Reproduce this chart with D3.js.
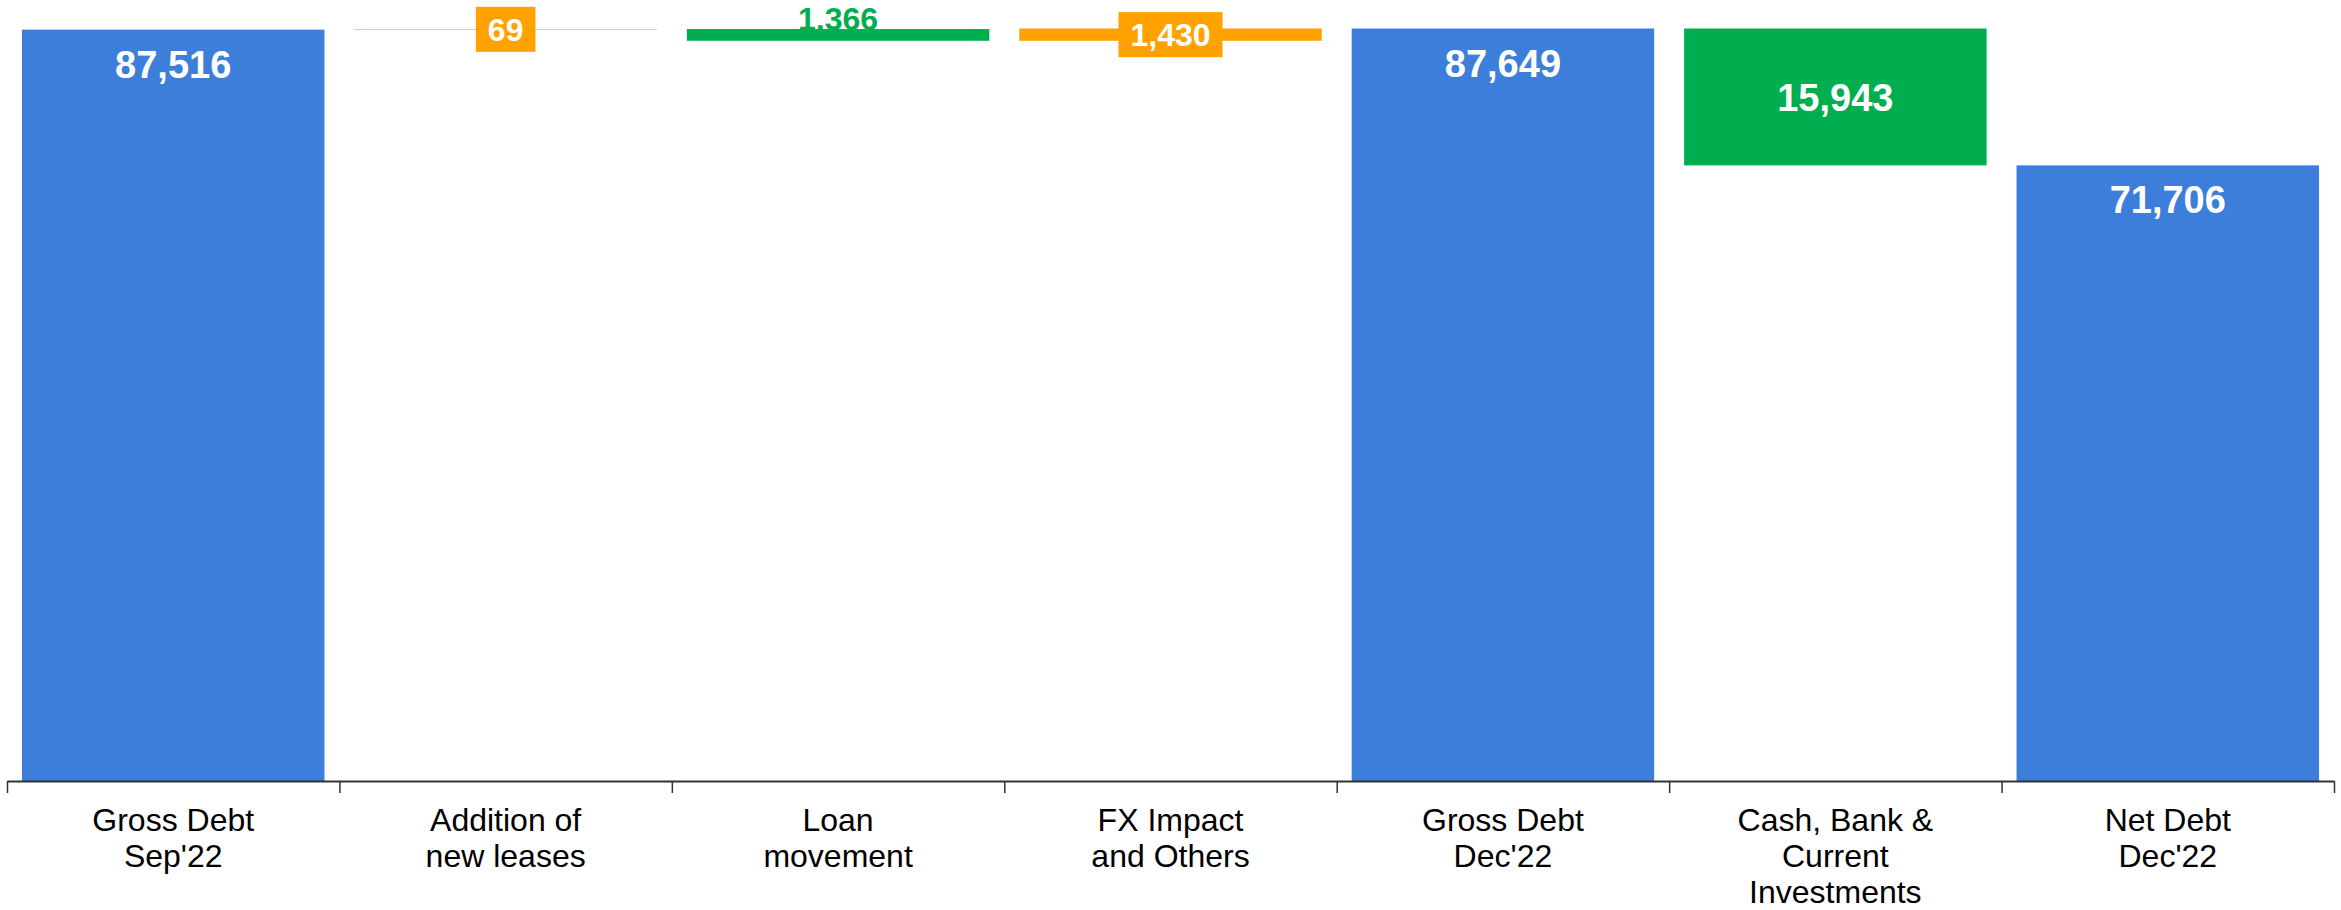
<!DOCTYPE html>
<html>
<head>
<meta charset="utf-8">
<script src="https://cdn.jsdelivr.net/npm/d3@7/dist/d3.min.js"></script>
<style>
  html, body { margin: 0; padding: 0; background: #fff; }
  svg { display: block; font-family: "Liberation Sans", Arial, sans-serif; }
</style>
</head>
<body>
<svg id="chart" width="2341" height="910"></svg>
<script>
// waterfall data
var categories = ["gross_sep", "leases", "loan", "fx", "gross_dec", "cash", "net_dec"];
var tickLabels = [
	["Gross Debt", "Sep'22"],
	["Addition of", "new leases"],
	["Loan", "movement"],
	["FX Impact", "and Others"],
	["Gross Debt", "Dec'22"],
	["Cash, Bank &", "Current", "Investments"],
	["Net Debt", "Dec'22"]
];
var values = [87516, 69, -1366, 1430, 87649, -15943, 71706];
var isTotal = [true, false, false, false, true, false, true];

var colTotal = "#3d7edb",
	colUp = "#ffa200",
	colDown = "#00ae4f";

var xLeft = 7, xRight = 2334,
	yBase = 781, yTop = 28.5;

var svg = d3.select("#chart");

// build running totals
var run = 0;
var aData = categories.map(function (c, i) {
	var v = values[i], d;
	if (isTotal[i]) {
		d = { key: c, lo: 0, hi: v, v: v, type: "total" };
		run = v;
	} else {
		var next = run + v;
		d = { key: c, lo: Math.min(run, next), hi: Math.max(run, next), v: v, type: v >= 0 ? "up" : "down" };
		run = next;
	}
	return d;
});

var x = d3.scaleBand().domain(categories).range([xLeft, xRight])
	.paddingInner(0.09).paddingOuter(0.045);
var xEdge = d3.scaleLinear().domain([0, categories.length]).range([xLeft, xRight]);
var y = d3.scaleLinear().domain([0, d3.max(aData, function (d) { return d.hi; })]).range([yBase, yTop]);

var fmt = d3.format(",");
function colorOf(d) {
	return d.type === "total" ? colTotal : (d.type === "up" ? colUp : colDown);
}

// bars
svg.append("g").selectAll("rect").data(aData).enter().append("rect")
	.attr("x", function (d) { return x(d.key); })
	.attr("width", x.bandwidth())
	.attr("y", function (d) { return y(d.hi); })
	.attr("height", function (d) { return y(d.lo) - y(d.hi); })
	.attr("fill", colorOf);

// axis with ticks on band edges
var gAxis = svg.append("g").attr("transform", "translate(0," + yBase + ")")
	.call(d3.axisBottom(xEdge).tickValues(d3.range(categories.length + 1))
		.tickSize(12).tickSizeOuter(0).tickFormat(""));
gAxis.select(".domain").attr("stroke", "#333").attr("stroke-width", 2);
gAxis.selectAll(".tick line").attr("stroke", "#333").attr("stroke-width", 1.5);

// category labels
var gLab = svg.append("g");
tickLabels.forEach(function (lines, i) {
	var cx = x(categories[i]) + x.bandwidth() / 2;
	var t = gLab.append("text")
		.attr("x", cx)
		.attr("y", 831)
		.attr("text-anchor", "middle")
		.attr("font-size", "32px")
		.attr("fill", "#000");
	lines.forEach(function (s, k) {
		t.append("tspan").attr("x", cx).attr("dy", k === 0 ? 0 : 36).text(s);
	});
});

// value labels
var gVal = svg.append("g");
aData.forEach(function (d) {
	var cx = x(d.key) + x.bandwidth() / 2;
	var hPx = y(d.lo) - y(d.hi);
	if (d.type === "total") {
		gVal.append("text").attr("x", cx).attr("y", y(d.hi) + 48)
			.attr("text-anchor", "middle").attr("font-size", "38px").attr("font-weight", "bold")
			.attr("fill", "#fff").text(fmt(d.v));
	} else if (hPx > 60) {
		gVal.append("text").attr("x", cx).attr("y", (y(d.hi) + y(d.lo)) / 2).attr("dy", "0.36em")
			.attr("text-anchor", "middle").attr("font-size", "38px").attr("font-weight", "bold")
			.attr("fill", "#fff").text(fmt(Math.abs(d.v)));
	} else if (d.type === "up") {
		// small increase: label in an orange box
		var cy = (y(d.hi) + y(d.lo)) / 2;
		var g = gVal.append("g");
		var rc = g.append("rect").attr("fill", colUp);
		var tx = g.append("text").attr("x", cx).attr("y", cy).attr("dy", "0.36em")
			.attr("text-anchor", "middle").attr("font-size", "32px").attr("font-weight", "bold")
			.attr("fill", "#fff").text(fmt(Math.abs(d.v)));
		var tw = tx.node().getComputedTextLength();
		rc.attr("x", cx - tw / 2 - 12).attr("width", tw + 24)
			.attr("y", cy - 22.5).attr("height", 45);
	} else {
		gVal.append("text").attr("x", cx).attr("y", y(d.hi) + 1)
			.attr("text-anchor", "middle").attr("font-size", "32px").attr("font-weight", "bold")
			.attr("fill", colDown).text(fmt(Math.abs(d.v)));
	}
});
</script>
</body>
</html>
